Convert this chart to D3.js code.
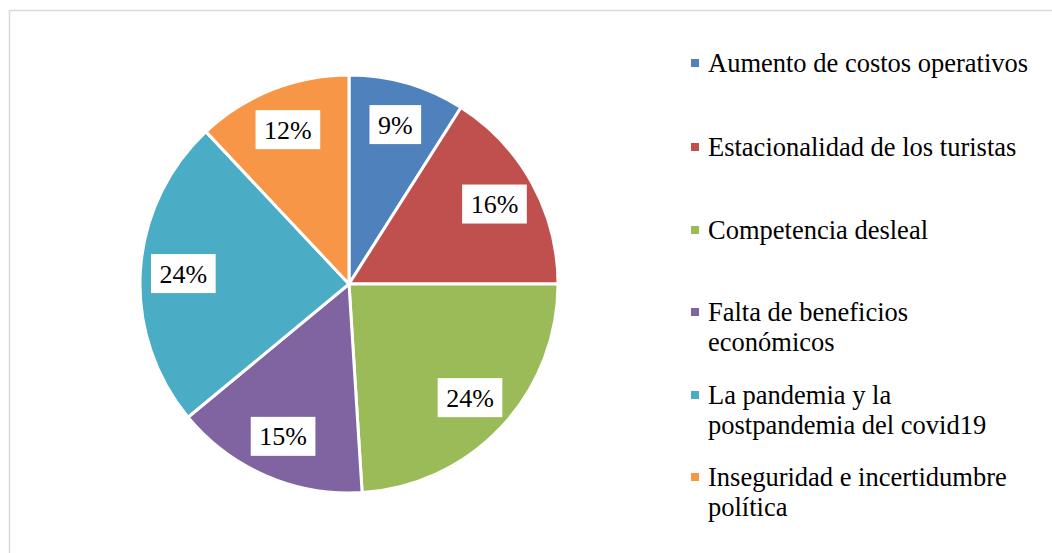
<!DOCTYPE html>
<html lang="es">
  <head>
    <meta charset="UTF-8" />
    <title>Factores</title>
    <script src="https://d3js.org/d3.v7.min.js"></script>
    <style>
      body {
        margin: 0;
        background: #fff;
      }
      svg text {
        font-family: "Liberation Serif", "Times New Roman", Times, "DejaVu Serif", serif;
      }
    </style>
  </head>
  <body>
    <script>
      // chart data
      var categories = [
        "Aumento de costos operativos",
        "Estacionalidad de los turistas",
        "Competencia desleal",
        "Falta de beneficios económicos",
        "La pandemia y la postpandemia del covid19",
        "Inseguridad e incertidumbre política",
      ];
      var values = [9, 16, 24, 15, 24, 12];
      // legend text split in lines as shown
      var legendLines = [
        ["Aumento de costos operativos"],
        ["Estacionalidad de los turistas"],
        ["Competencia desleal"],
        ["Falta de beneficios", "económicos"],
        ["La pandemia y la", "postpandemia del covid19"],
        ["Inseguridad e incertidumbre", "política"],
      ];
      var colors = ["#4F81BD", "#C0504D", "#9BBB59", "#8064A2", "#4BACC6", "#F79646"];

      var width = 1052,
        height = 553;

      var svg = d3
        .select("body")
        .append("svg")
        .attr("width", width)
        .attr("height", height);

      // outer border (runs off the right and bottom)
      svg
        .append("rect")
        .attr("x", 9.5)
        .attr("y", 10.5)
        .attr("width", width)
        .attr("height", height)
        .attr("fill", "none")
        .attr("stroke", "#d9d9d9")
        .attr("stroke-width", 1.5);

      var cx = 349,
        cy = 284,
        r = 209;

      var color = d3.scaleOrdinal().domain(categories).range(colors);

      var pie = d3
        .pie()
        .sort(null)
        .value(function (d, i) {
          return values[i];
        });
      var arcs = pie(categories);

      var arc = d3.arc().innerRadius(0).outerRadius(r);
      var labelArc = d3.arc().innerRadius(166).outerRadius(166);

      var g = svg.append("g").attr("transform", "translate(" + cx + "," + cy + ")");

      g.selectAll(".slice")
        .data(arcs)
        .enter()
        .append("path")
        .attr("class", "slice")
        .attr("d", arc)
        .attr("fill", function (d) {
          return color(d.data);
        })
        .attr("stroke", "#fff")
        .attr("stroke-width", 3)
        .attr("stroke-linejoin", "round");

      // data labels in white boxes
      var labels = g
        .selectAll(".lbl")
        .data(arcs)
        .enter()
        .append("g")
        .attr("class", "lbl")
        .attr("transform", function (d) {
          return "translate(" + labelArc.centroid(d) + ")";
        });

      labels
        .append("text")
        .attr("text-anchor", "middle")
        .attr("dy", "0.35em")
        .style("font-size", "26px")
        .style("fill", "#000")
        .text(function (d) {
          return d.value + "%";
        });

      labels.each(function () {
        var t = d3.select(this).select("text");
        var b = t.node().getBBox();
        d3.select(this)
          .insert("rect", "text")
          .attr("x", b.x - 8.5)
          .attr("y", -19.5)
          .attr("width", b.width + 17)
          .attr("height", 39)
          .attr("fill", "#fff");
      });

      // legend
      var legendX = 695,
        legendY = [63, 147, 230, 312, 395, 477],
        lineH = 30;

      var legend = svg
        .selectAll(".legend")
        .data(categories)
        .enter()
        .append("g")
        .attr("class", "legend")
        .attr("transform", function (d, i) {
          return "translate(" + legendX + "," + legendY[i] + ")";
        });

      legend
        .append("rect")
        .attr("x", -4)
        .attr("y", -4)
        .attr("width", 8)
        .attr("height", 8)
        .attr("fill", function (d) {
          return color(d);
        });

      legend
        .append("text")
        .attr("x", 13)
        .style("font-size", "26.5px")
        .style("fill", "#000")
        .selectAll("tspan")
        .data(function (d, i) {
          return legendLines[i];
        })
        .enter()
        .append("tspan")
        .attr("x", 13)
        .attr("y", function (d, j) {
          return j * lineH;
        })
        .attr("dy", "0.35em")
        .text(function (d) {
          return d;
        });
    </script>
  </body>
</html>
